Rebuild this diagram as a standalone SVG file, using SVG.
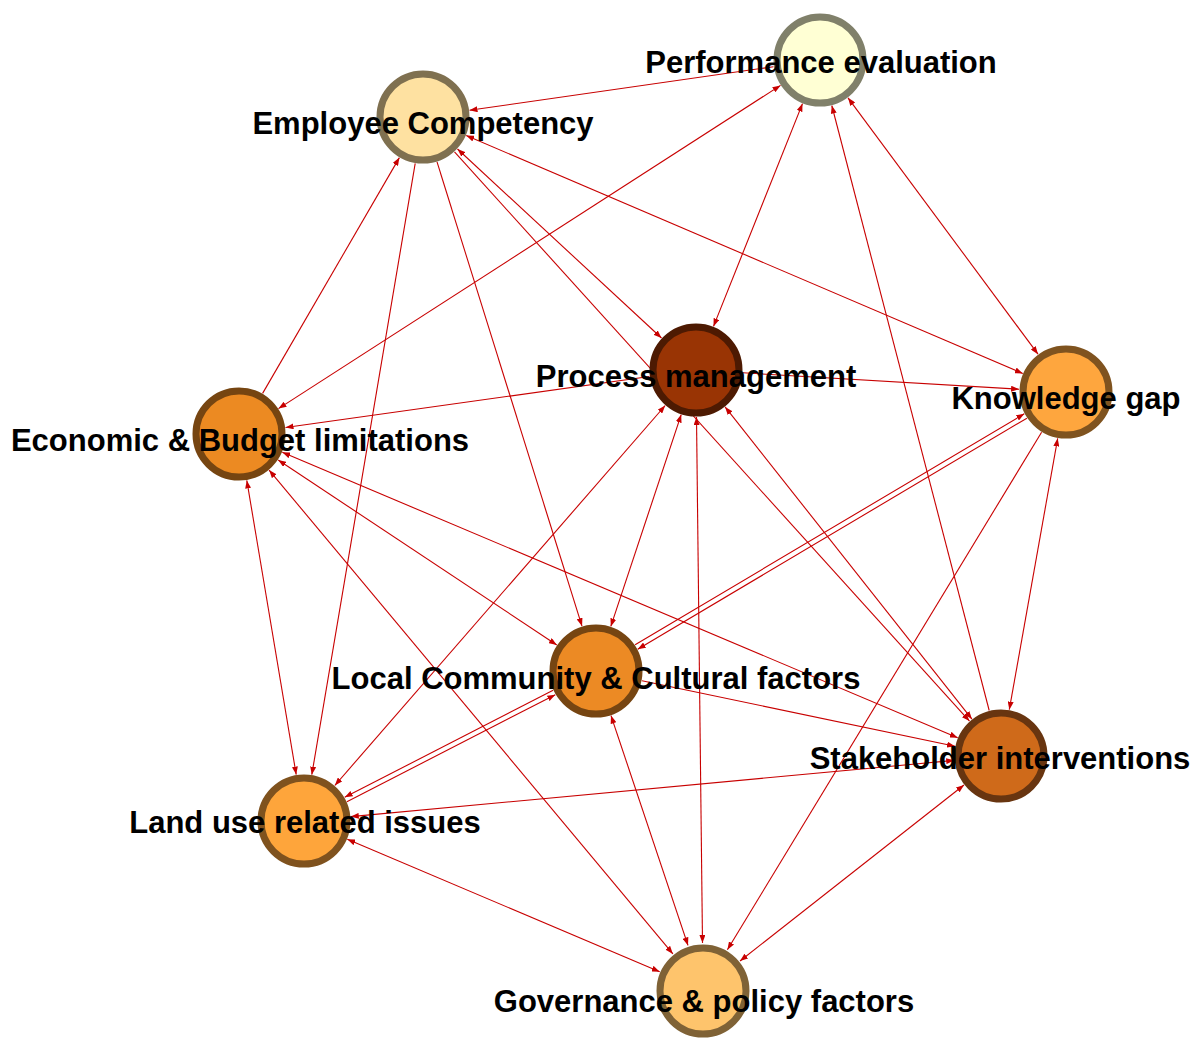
<svg xmlns="http://www.w3.org/2000/svg" width="1195" height="1042" viewBox="0 0 1195 1042">
  <style>
    .edge { stroke: #c80000; stroke-width: 1.1; fill: none; }
    .node circle { stroke-width: 7; }
    .node text { font-family: "Liberation Sans", Arial, sans-serif; font-weight: bold; font-size: 31px; fill: #000; text-anchor: middle; }
  </style>
  <defs>
    <marker id="arrow" markerUnits="userSpaceOnUse" markerWidth="8" markerHeight="6" refX="8" refY="3" orient="auto-start-reverse">
      <path d="M0,0 L8,3 L0,6 z" fill="#c80000"/>
    </marker>
  </defs>
  <rect width="1195" height="1042" fill="#ffffff"/>

  <!-- connectors: tips sit on the node rims -->
  <g id="edges">
    <!-- Performance evaluation -->
    <line class="edge" x1="773.5" y1="66.7" x2="469.5" y2="110.3" marker-end="url(#arrow)"/>
    <line class="edge" x1="780.5" y1="85.4" x2="278.5" y2="408.6" marker-start="url(#arrow)" marker-end="url(#arrow)"/>
    <line class="edge" x1="802.5" y1="103.6" x2="713.5" y2="326.4" marker-start="url(#arrow)" marker-end="url(#arrow)"/>
    <line class="edge" x1="848" y1="97.8" x2="1038" y2="354.2" marker-start="url(#arrow)" marker-end="url(#arrow)"/>
    <line class="edge" x1="989.2" y1="710.5" x2="831.8" y2="105.5" marker-end="url(#arrow)"/>
    <!-- Employee Competency -->
    <line class="edge" x1="262.6" y1="393.4" x2="399.4" y2="157.6" marker-end="url(#arrow)"/>
    <line class="edge" x1="457.5" y1="149" x2="661.5" y2="338" marker-start="url(#arrow)" marker-end="url(#arrow)"/>
    <line class="edge" x1="454.5" y1="151.9" x2="969.5" y2="721.1" marker-end="url(#arrow)"/>
    <line class="edge" x1="466.2" y1="135.5" x2="1022.8" y2="373.5" marker-start="url(#arrow)" marker-end="url(#arrow)"/>
    <line class="edge" x1="437" y1="161.9" x2="582" y2="626.1" marker-end="url(#arrow)"/>
    <line class="edge" x1="415.2" y1="163.3" x2="311.8" y2="774.7" marker-end="url(#arrow)"/>
    <!-- Process management -->
    <line class="edge" x1="649.5" y1="376.5" x2="285.5" y2="427.5" marker-end="url(#arrow)"/>
    <line class="edge" x1="742.9" y1="372.8" x2="1019.1" y2="389.2" marker-end="url(#arrow)"/>
    <line class="edge" x1="681.2" y1="414.6" x2="610.8" y2="626.4" marker-start="url(#arrow)" marker-end="url(#arrow)"/>
    <line class="edge" x1="665.2" y1="405.5" x2="334.8" y2="785.5" marker-start="url(#arrow)" marker-end="url(#arrow)"/>
    <line class="edge" x1="696.5" y1="417" x2="702.5" y2="943" marker-start="url(#arrow)" marker-end="url(#arrow)"/>
    <line class="edge" x1="725.1" y1="406.9" x2="971.9" y2="719.1" marker-start="url(#arrow)" marker-end="url(#arrow)"/>
    <!-- Knowledge gap -->
    <line class="edge" x1="1024.3" y1="413.8" x2="635.1" y2="644.8" marker-start="url(#arrow)"/>
    <line class="edge" x1="1026.9" y1="418.2" x2="637.7" y2="649.2" marker-end="url(#arrow)"/>
    <line class="edge" x1="1057.7" y1="438.3" x2="1009.3" y2="709.7" marker-start="url(#arrow)" marker-end="url(#arrow)"/>
    <line class="edge" x1="1041.6" y1="432.2" x2="727.4" y2="949.8" marker-end="url(#arrow)"/>
    <!-- Economic & Budget limitations -->
    <line class="edge" x1="278.2" y1="460" x2="556.8" y2="645" marker-start="url(#arrow)" marker-end="url(#arrow)"/>
    <line class="edge" x1="282.3" y1="452.3" x2="957.7" y2="737.7" marker-start="url(#arrow)" marker-end="url(#arrow)"/>
    <line class="edge" x1="246.8" y1="480.4" x2="296.2" y2="774.6" marker-start="url(#arrow)" marker-end="url(#arrow)"/>
    <line class="edge" x1="269.1" y1="470.1" x2="672.9" y2="953.9" marker-start="url(#arrow)" marker-end="url(#arrow)"/>
    <!-- Local Community & Cultural factors -->
    <line class="edge" x1="553.1" y1="690.3" x2="344.7" y2="797.3" marker-end="url(#arrow)"/>
    <line class="edge" x1="555.3" y1="694.7" x2="346.9" y2="801.7" marker-start="url(#arrow)"/>
    <line class="edge" x1="642" y1="680.7" x2="955" y2="746.3" marker-end="url(#arrow)"/>
    <line class="edge" x1="611" y1="715.6" x2="688" y2="945.4" marker-start="url(#arrow)" marker-end="url(#arrow)"/>
    <!-- Stakeholder interventions / Land use -->
    <line class="edge" x1="954.2" y1="760.4" x2="350.8" y2="816.6" marker-start="url(#arrow)" marker-end="url(#arrow)"/>
    <line class="edge" x1="964" y1="785" x2="740" y2="961" marker-start="url(#arrow)" marker-end="url(#arrow)"/>
    <line class="edge" x1="347.3" y1="839.3" x2="659.7" y2="971.7" marker-start="url(#arrow)" marker-end="url(#arrow)"/>
  </g>

  <!-- nodes -->
  <g id="node-performance" class="node">
    <circle cx="820" cy="60" r="43" fill="#ffffd4" stroke="#80806a"/>
    <text x="821" y="73">Performance evaluation</text>
  </g>
  <g id="node-employee" class="node">
    <circle cx="423" cy="117" r="43" fill="#fee1a1" stroke="#7f7050"/>
    <text x="423" y="134">Employee Competency</text>
  </g>
  <g id="node-process" class="node">
    <circle cx="696" cy="370" r="43" fill="#993404" stroke="#4d1a02"/>
    <text x="696" y="387">Process management</text>
  </g>
  <g id="node-knowledge" class="node">
    <circle cx="1066" cy="392" r="43" fill="#fea63e" stroke="#7f531f"/>
    <text x="1066" y="409">Knowledge gap</text>
  </g>
  <g id="node-economic" class="node">
    <circle cx="239" cy="434" r="43" fill="#ec8a22" stroke="#764511"/>
    <text x="240" y="451">Economic &amp; Budget limitations</text>
  </g>
  <g id="node-local" class="node">
    <circle cx="596" cy="671" r="43" fill="#ec8a24" stroke="#764512"/>
    <text x="596" y="689">Local Community &amp; Cultural factors</text>
  </g>
  <g id="node-stakeholder" class="node">
    <circle cx="1001" cy="756" r="43" fill="#cf6a1a" stroke="#683510"/>
    <text x="1000" y="769">Stakeholder interventions</text>
  </g>
  <g id="node-landuse" class="node">
    <circle cx="304" cy="821" r="43" fill="#fea53b" stroke="#7f521e"/>
    <text x="305" y="833">Land use related issues</text>
  </g>
  <g id="node-governance" class="node">
    <circle cx="703" cy="991" r="43" fill="#fec46c" stroke="#7f6236"/>
    <text x="704" y="1012">Governance &amp; policy factors</text>
  </g>
</svg>
